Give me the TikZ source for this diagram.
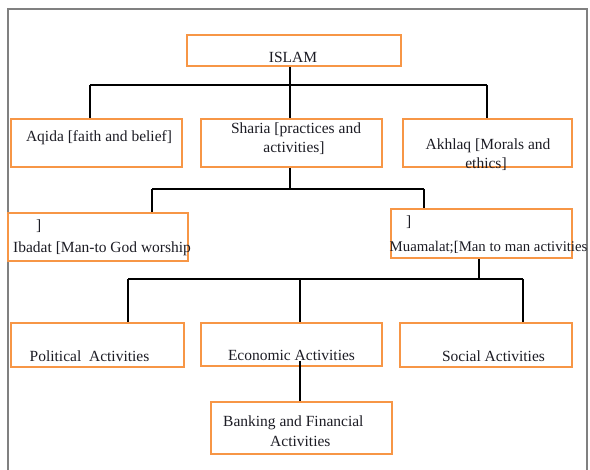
\documentclass[tikz,border=0pt]{standalone}
\usepackage{fontspec}
\setmainfont{Liberation Serif}
\definecolor{boxorange}{HTML}{F79646}
\definecolor{framegray}{HTML}{808080}
\definecolor{txt}{HTML}{1C1C24}
\tikzset{
  obox/.style={draw=boxorange, line width=2pt, inner sep=0pt, rectangle},
  conn/.style={draw=black, line width=2.8pt, line cap=butt},
  lbl/.style={inner sep=0pt, text=txt, font=\fontsize{15.5}{19}\selectfont},
}
\begin{document}
\begin{tikzpicture}[x=1pt,y=-1pt]
\useasboundingbox (0,0) rectangle (590,470);
\draw[framegray, line width=1.2pt] (8,9) rectangle (587,490);

% boxes
\node[obox, minimum width=214pt, minimum height=31pt] (islam) at (294,50.5) {};
\node[obox, minimum width=171pt, minimum height=48pt] (aqida) at (96.5,143) {};
\node[obox, minimum width=181pt, minimum height=48pt] (sharia) at (291.5,143) {};
\node[obox, minimum width=169pt, minimum height=48pt] (akhlaq) at (487.5,143) {};
\node[obox, minimum width=180pt, minimum height=48pt] (ibadat) at (98,237) {};
\node[obox, minimum width=181pt, minimum height=49pt] (muamalat) at (481.5,233.5) {};
\node[obox, minimum width=173.5pt, minimum height=44pt] (political) at (97.25,345) {};
\node[obox, minimum width=181pt, minimum height=43pt] (economic) at (291.5,344.5) {};
\node[obox, minimum width=172pt, minimum height=44pt] (social) at (486,345) {};
\node[obox, minimum width=181pt, minimum height=52pt] (banking) at (301.5,428) {};

% connectors level 1
\coordinate (j1) at (290,85);
\coordinate (h1l) at (90,85);
\coordinate (h1r) at (487,85);
\draw[conn] (islam.south -| j1) -- (j1);
\draw[conn] (h1l) -- (h1r);
\draw[conn] (h1l) -- (h1l |- aqida.north);
\draw[conn] (j1) -- (j1 |- sharia.north);
\draw[conn] (h1r) -- (h1r |- akhlaq.north);

% connectors level 2
\coordinate (j2) at (290,189);
\coordinate (h2l) at (152,189);
\coordinate (h2r) at (424,189);
\draw[conn] (sharia.south -| j2) -- (j2);
\draw[conn] (h2l) -- (h2r);
\draw[conn] (h2l) -- (h2l |- ibadat.north);
\draw[conn] (h2r) -- (h2r |- muamalat.north);

% connectors level 3
\coordinate (j3) at (479,279);
\coordinate (h3l) at (128,279);
\coordinate (h3m) at (300,279);
\coordinate (h3r) at (523,279);
\draw[conn] (muamalat.south -| j3) -- (j3);
\draw[conn] (h3l) -- (h3r);
\draw[conn] (h3l) -- (h3l |- political.north);
\draw[conn] (h3m) -- (h3m |- economic.north);
\draw[conn] (h3r) -- (h3r |- social.north);

% economic -> banking
\coordinate (e1) at (300,361);
\draw[conn] (e1) -- (e1 |- banking.north);

% texts
\node[lbl, anchor=base] (t-islam) at (293,62.5) {ISLAM};
\node[lbl, anchor=base] (t-aqida) at (99,142) {Aqida [faith and belief]};
\node[lbl, anchor=base] (t-sharia1) at (296,133.5) {Sharia [practices and};
\node[lbl, anchor=base] (t-sharia2) at (294,153) {activities]};
\node[lbl, anchor=base] (t-akhlaq1) at (488,150) {Akhlaq [Morals and};
\node[lbl, anchor=base] (t-akhlaq2) at (486,169) {ethics]};
\node[lbl, anchor=base west] (t-ibadat0) at (36,230.5) {]};
\node[lbl, anchor=base west] (t-ibadat) at (13,253) {Ibadat [Man-to God worship};
\node[lbl, anchor=base west] (t-muam0) at (406,226.5) {]};
\node[lbl, anchor=base west, font=\fontsize{14.8}{18}\selectfont] (t-muam) at (389.5,252) {Muamalat;[Man to man activities};
\node[lbl, anchor=base] (t-political) at (89.5,361.5) {Political\ \ Activities};
\node[lbl, anchor=base] (t-economic) at (291.5,360.5) {Economic Activities};
\node[lbl, anchor=base] (t-social) at (493.5,361.5) {Social Activities};
\node[lbl, anchor=base west] (t-bank1) at (223,427) {Banking and Financial};
\node[lbl, anchor=base west] (t-bank2) at (270,447) {Activities};
\end{tikzpicture}
\end{document}
